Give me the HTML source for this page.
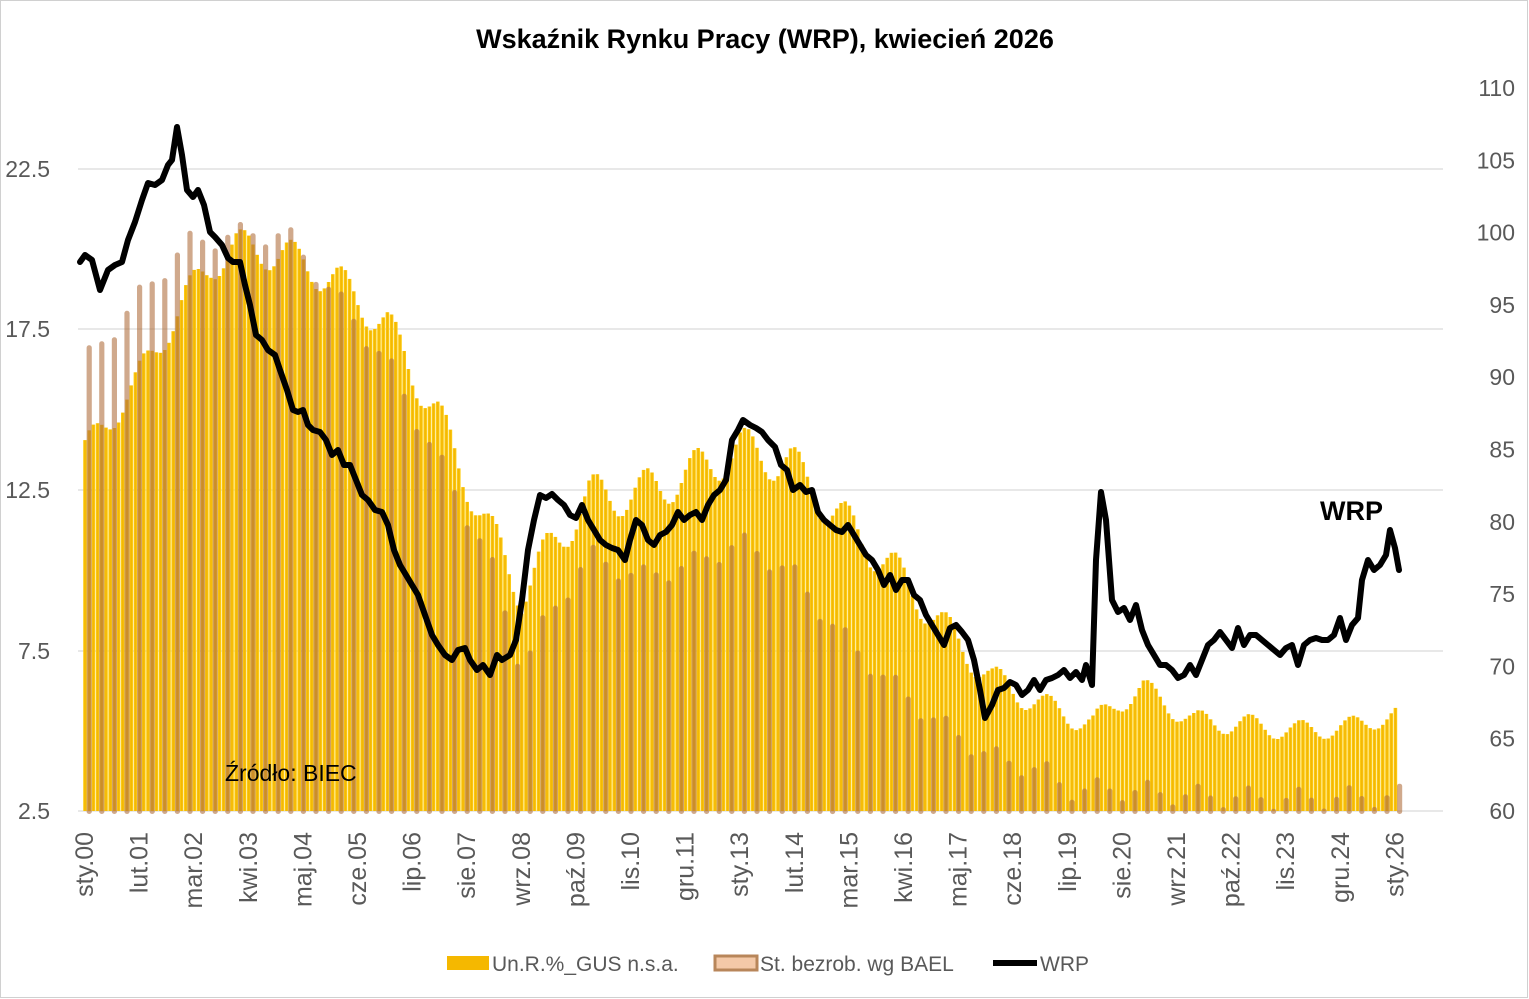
<!DOCTYPE html>
<html><head><meta charset="utf-8">
<style>
body{margin:0;background:#fff;}
svg{display:block;font-family:"Liberation Sans",Arial,sans-serif;}
</style></head>
<body>
<svg id="c" width="1529" height="999" viewBox="0 0 1529 999" xmlns="http://www.w3.org/2000/svg">
<defs>
<linearGradient id="g" x1="0" x2="1" y1="0" y2="0">
<stop offset="0" stop-color="#FFD21A"/><stop offset="0.5" stop-color="#F2B300"/><stop offset="1" stop-color="#FFD21A"/>
</linearGradient>
</defs>
<rect x="0.5" y="0.5" width="1527" height="997" fill="#fff" stroke="#d0d0d0"/>
<text x="765" y="48" text-anchor="middle" font-size="27" font-weight="bold" fill="#000">Wskaźnik Rynku Pracy (WRP), kwiecień 2026</text>
<g id="grid" stroke="#d9d9d9" stroke-width="1.3">
<line x1="78" x2="1443" y1="169" y2="169"/>
<line x1="78" x2="1443" y1="329" y2="329"/>
<line x1="78" x2="1443" y1="490" y2="490"/>
<line x1="78" x2="1443" y1="651" y2="651"/>
<line x1="78" x2="1443" y1="811" y2="811"/>
</g>
<g id="bars"></g>
<g id="bael"></g>
<g font-size="23" fill="#595959">
<text x="50" y="177" text-anchor="end">22.5</text>
<text x="50" y="337" text-anchor="end">17.5</text>
<text x="50" y="498" text-anchor="end">12.5</text>
<text x="50" y="659" text-anchor="end">7.5</text>
<text x="50" y="819" text-anchor="end">2.5</text>
</g>
<g id="rt" font-size="23" fill="#595959"></g>
<g id="xl" font-size="25" fill="#595959"></g>
<polyline id="wrp" fill="none" stroke="#000" stroke-width="6" stroke-linejoin="round" stroke-linecap="round"/>
<text x="1320" y="520" font-size="27" font-weight="bold" fill="#000">WRP</text>
<text x="225" y="781" font-size="23" fill="#000">Źródło: BIEC</text>
<g font-size="21" fill="#595959">
<rect x="447" y="956" width="42" height="14" fill="#F5B800"/>
<text x="492" y="971">Un.R.%_GUS n.s.a.</text>
<rect x="715" y="956" width="42" height="14" fill="#F4C9A8" stroke="#B8865A" stroke-width="3"/>
<text x="760" y="971">St. bezrob. wg BAEL</text>
<line x1="993" x2="1037" y1="963" y2="963" stroke="#000" stroke-width="6"/>
<text x="1040" y="971">WRP</text>
</g>
</svg>
<script>
function X(m){return 85+m*4.2;}
function Y(v){return 811-(v-2.5)*32.1;}
function interp(k,m){for(var i=0;i<k.length-1;i++){if(m>=k[i][0]&&m<=k[i+1][0]){var t=(m-k[i][0])/(k[i+1][0]-k[i][0]);return k[i][1]+t*(k[i+1][1]-k[i][1]);}}return k[k.length-1][1];}
var tr=[[0,13.7],[12,15.8],[24,18.5],[30,19.5],[36,20.1],[48,19.8],[60,19.0],[72,17.6],[84,14.8],[96,11.3],[104,9.3],[110,10.5],[120,12.3],[132,12.4],[144,13.0],[156,13.8],[168,13.3],[180,11.6],[192,10.1],[204,8.3],[216,6.6],[228,5.8],[240,5.2],[246,5.9],[252,6.3],[264,5.3],[276,5.2],[288,5.0],[300,5.1],[312,5.5]];
var amp=[[0,0.5],[60,0.6],[120,0.7],[180,0.7],[230,0.4],[312,0.3]];
var b=document.getElementById("bars"),h="";
for(var m=0;m<=312;m++){var v=interp(tr,m)+interp(amp,m)*Math.cos(2*Math.PI*(m-1.5)/12);var y=Y(v);h+='<rect x="'+(X(m)-1.8).toFixed(1)+'" y="'+y.toFixed(1)+'" width="3.6" height="'+(811-y).toFixed(1)+'" fill="url(#g)"/>';}
b.innerHTML=h;
var bt=[[0,16.5],[12,18.4],[24,20.2],[36,20.5],[48,20.5],[60,18.5],[72,16.5],[84,13.5],[96,10.5],[104,7.0],[110,8.5],[120,10.5],[132,9.8],[144,10.2],[156,10.9],[168,10.0],[180,8.0],[192,6.5],[204,5.2],[216,4.2],[228,3.8],[234,3.2],[246,3.2],[264,3.0],[288,2.9],[312,3.0]];
h="";for(var q=0;q<=104;q++){var mm=q*3+1;var v=interp(bt,mm)+0.35*Math.cos(2*Math.PI*q/4);var y=Y(v);h+='<rect x="'+(X(mm)-2.6).toFixed(1)+'" y="'+y.toFixed(1)+'" width="5.2" rx="2.5" height="'+(811-y+3).toFixed(1)+'" fill="#B07040" fill-opacity="0.6"/>';}
document.getElementById("bael").innerHTML=h;
h="";for(var i=0;i<=10;i++){var val=110-i*5;var y=88+i*72.3;h+='<text x="1515" y="'+(y+8)+'" text-anchor="end">'+val+'</text>';}
document.getElementById("rt").innerHTML=h;
var L=["sty.00","lut.01","mar.02","kwi.03","maj.04","cze.05","lip.06","sie.07","wrz.08","paź.09","lis.10","gru.11","sty.13","lut.14","mar.15","kwi.16","maj.17","cze.18","lip.19","sie.20","wrz.21","paź.22","lis.23","gru.24","sty.26"];
h="";for(var i=0;i<L.length;i++){var x=X(i*13)+8;h+='<text transform="translate('+x.toFixed(1)+',832) rotate(-90)" text-anchor="end">'+L[i]+'</text>';}
document.getElementById("xl").innerHTML=h;
var p=[[80,262],[85,255],[92,260],[100,290],[108,270],[115,265],[122,262],[128,240],[135,222],[142,200],[148,183],[155,185],[162,180],[168,165],[172,160],[177,127],[182,155],[187,190],[193,197],[198,190],[204,205],[210,232],[215,237],[222,245],[228,258],[233,262],[240,262],[245,285],[250,305],[256,335],[262,340],[268,350],[275,355],[280,370],[287,390],[293,410],[298,412],[303,410],[308,425],[313,430],[320,432],[326,440],[332,455],[338,450],[344,465],[350,465],[356,480],[362,495],[368,500],[375,510],[382,512],[388,525],[394,550],[400,565],[406,575],[412,585],[418,595],[425,615],[432,635],[438,645],[445,655],[452,660],[458,650],[465,648],[470,660],[477,670],[483,665],[490,675],[497,655],[502,660],[510,655],[516,640],[522,600],[528,550],[534,520],[540,495],[546,498],[552,494],[558,500],[564,505],[570,515],[576,518],[582,505],[588,520],[594,530],[600,540],[606,545],[612,548],[618,550],[625,560],[630,540],[636,520],[642,525],[648,540],[654,545],[660,535],[666,532],[672,525],[678,512],[684,520],[690,515],[696,512],[702,520],[708,505],[714,495],[720,490],[726,480],[732,440],[738,430],[743,420],[750,425],[756,428],[762,432],[768,440],[775,447],[781,465],[787,470],[793,490],[800,485],[806,492],[812,490],[818,512],[824,520],[830,525],[836,530],[842,532],[848,525],[854,535],[860,545],[866,555],[872,560],[878,570],[884,585],[890,575],[896,590],[902,580],[908,580],[914,595],[920,600],[926,615],[932,625],[938,635],[944,645],[950,628],[956,625],[962,632],[968,640],[974,660],[980,690],[985,718],[992,705],[998,690],[1004,688],[1010,682],[1016,685],[1022,695],[1028,690],[1034,680],[1040,690],[1046,680],[1052,678],[1058,675],[1064,670],[1070,678],[1076,672],[1082,680],[1086,665],[1092,685],[1096,560],[1101,492],[1106,520],[1112,600],[1118,612],[1124,608],[1130,620],[1136,605],[1142,630],[1148,645],[1154,655],[1160,665],[1166,665],[1172,670],[1178,678],[1184,675],[1190,665],[1196,675],[1202,660],[1208,645],[1214,640],[1220,632],[1226,640],[1232,648],[1238,628],[1244,645],[1250,635],[1256,635],[1262,640],[1268,645],[1274,650],[1280,655],[1286,648],[1292,645],[1298,665],[1304,645],[1310,640],[1316,638],[1322,640],[1328,640],[1334,635],[1340,618],[1346,640],[1352,625],[1358,618],[1362,580],[1368,560],[1374,570],[1380,565],[1386,555],[1390,530],[1395,548],[1399,570]];
document.getElementById("wrp").setAttribute("points",p.map(function(a){return a[0]+","+a[1];}).join(" "));
</script>
</body></html>
